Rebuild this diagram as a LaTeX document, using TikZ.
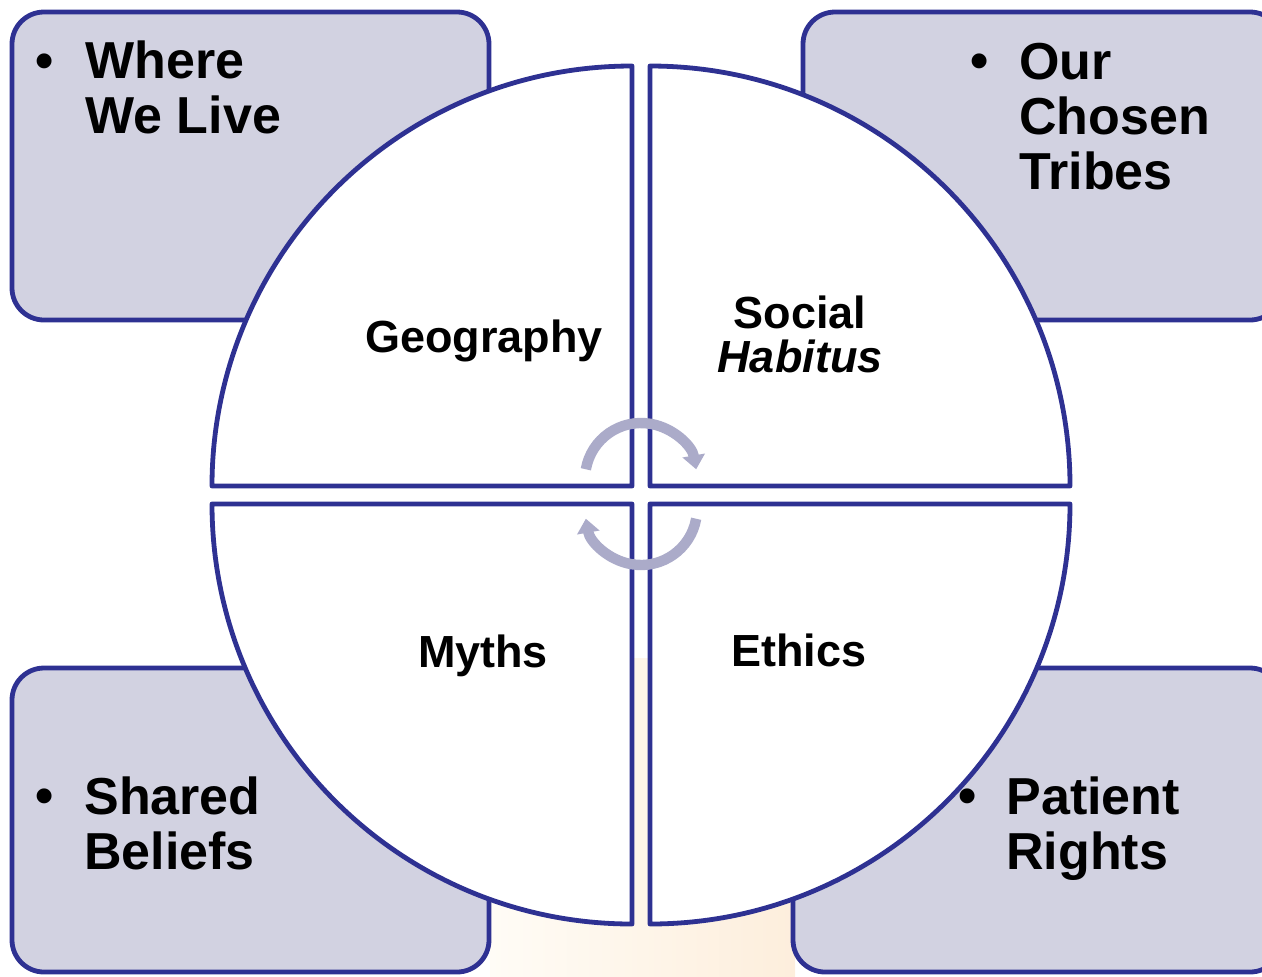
\documentclass[tikz,border=0pt]{standalone}
\usepackage{fontspec}
\setmainfont{Liberation Sans}
\usetikzlibrary{arrows.meta}
\definecolor{ringblue}{RGB}{46,49,146}
\definecolor{tilefill}{RGB}{210,210,225}
\definecolor{cyclegray}{RGB}{171,171,201}
\definecolor{creamA}{RGB}{255,252,246}
\definecolor{creamB}{RGB}{253,238,220}
\begin{document}
\begin{tikzpicture}[x=0.5pt,y=-0.5pt,
    tile/.style={draw=ringblue, line width=2.4pt, fill=tilefill, rounded corners=16pt},
    quad/.style={draw=ringblue, line width=2.4pt, fill=white, line join=round},
    cyc/.style={draw=cyclegray, line width=5.2pt, -{Triangle[width=11pt,length=7pt]}},
    tag/.style={font=\bfseries\fontsize{26}{27.5}\selectfont, align=left,
      anchor=base west, inner sep=0pt},
    dot/.style={font=\bfseries\fontsize{26}{27.5}\selectfont, anchor=base, inner sep=0pt},
    lab/.style={font=\bfseries\fontsize{22.5}{22}\selectfont, align=center,
      anchor=base, inner sep=0pt}]
  \useasboundingbox (0,0) rectangle (1262,976);
  % cream backdrop
  \shade[left color=creamA, right color=creamB] (490,658) rectangle (795,976);
  % corner tiles
  \draw[tile] (12,12) rectangle (489,320);
  \draw[tile] (803,12) rectangle (1282,320);
  \draw[tile] (12,668) rectangle (489,972);
  \draw[tile] (793,668) rectangle (1282,972);
  % four quarters
  \foreach \cx/\cy/\a/\b in {632/486/180/270, 650/486/270/360,
                             632/504/180/90, 650/504/90/0}
    {
     \draw[quad] (\cx,\cy) -- ++(\a:420)
       arc[start angle=\a, end angle=\b, radius=420] -- cycle;
    }
  % cycle arrows
  \draw[cyc] (641,479) ++(190:56) arc[start angle=190, end angle=350, radius=56];
  \draw[cyc] (641,509) ++(10:56) arc[start angle=10, end angle=170, radius=56];
  % bullets and tile texts (anchored on the last line)
  \foreach \bx/\by [count=\i] in {45/78, 980/78, 45/813, 968/813}
    \node[dot] (dot\i) at (\bx,\by) {•};
  \node[tag] (where) at (85,133) {Where\\We Live};
  \node[tag] (tribes) at (1019,189) {Our\\Chosen\\Tribes};
  \node[tag] (beliefs) at (84,869) {Shared\\Beliefs};
  \node[tag] (rights) at (1006,869) {Patient\\Rights};
  % quarter labels
  \node[lab] (geo) at (484,352) {Geography};
  \node[lab] (social) at (800,372) {Social\\\textit{Habitus}};
  \node[lab] (myths) at (483,667) {Myths};
  \node[lab] (ethics) at (799,666) {Ethics};
\end{tikzpicture}
\end{document}
